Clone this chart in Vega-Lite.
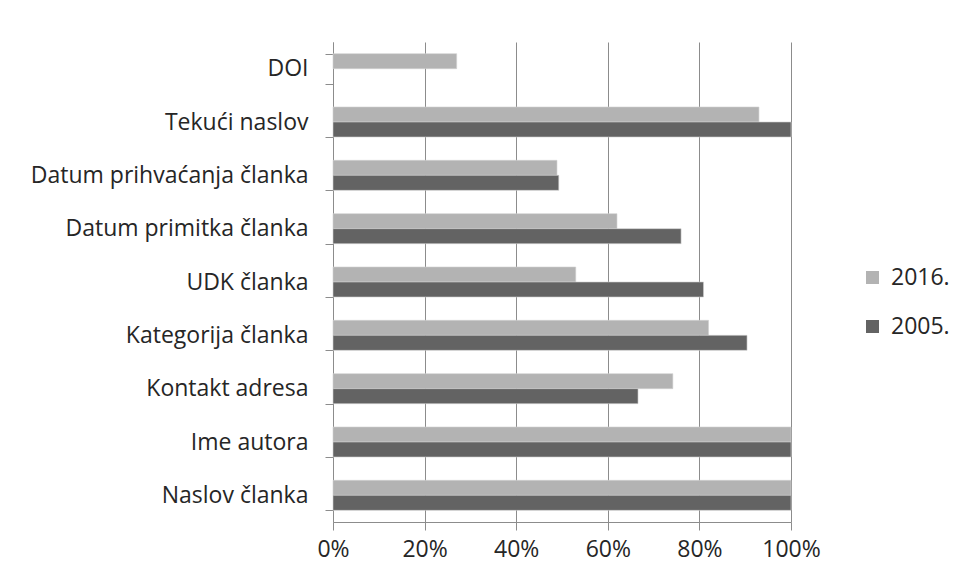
{
  "$schema": "https://vega.github.io/schema/vega-lite/v6.json",
  "width": 458,
  "height": 480,
  "autosize": {"type": "none"},
  "padding": {"left": 333, "top": 42, "right": 169, "bottom": 60},
  "background": "white",
  "data": {
    "values": [
      {"kategorija": "DOI", "godina": "2016.", "udio": 27},
      {"kategorija": "Tekući naslov", "godina": "2016.", "udio": 93},
      {"kategorija": "Tekući naslov", "godina": "2005.", "udio": 100},
      {"kategorija": "Datum prihvaćanja članka", "godina": "2016.", "udio": 48.9},
      {"kategorija": "Datum prihvaćanja članka", "godina": "2005.", "udio": 49.3},
      {"kategorija": "Datum primitka članka", "godina": "2016.", "udio": 62},
      {"kategorija": "Datum primitka članka", "godina": "2005.", "udio": 76},
      {"kategorija": "UDK članka", "godina": "2016.", "udio": 53},
      {"kategorija": "UDK članka", "godina": "2005.", "udio": 80.9},
      {"kategorija": "Kategorija članka", "godina": "2016.", "udio": 82},
      {"kategorija": "Kategorija članka", "godina": "2005.", "udio": 90.4},
      {"kategorija": "Kontakt adresa", "godina": "2016.", "udio": 74.2},
      {"kategorija": "Kontakt adresa", "godina": "2005.", "udio": 66.6},
      {"kategorija": "Ime autora", "godina": "2016.", "udio": 100},
      {"kategorija": "Ime autora", "godina": "2005.", "udio": 100},
      {"kategorija": "Naslov članka", "godina": "2016.", "udio": 100},
      {"kategorija": "Naslov članka", "godina": "2005.", "udio": 100}
    ]
  },
  "mark": {"type": "bar", "stroke": "#d0d0d0", "strokeWidth": 0.6},
  "encoding": {
    "y": {
      "field": "kategorija",
      "type": "nominal",
      "sort": ["DOI", "Tekući naslov", "Datum prihvaćanja članka", "Datum primitka članka", "UDK članka", "Kategorija članka", "Kontakt adresa", "Ime autora", "Naslov članka"],
      "scale": {"paddingInner": 0.4375, "paddingOuter": 0.21875},
      "axis": {
        "title": null,
        "tickBand": "extent",
        "tickSize": 8,
        "labelPadding": 17,
        "labelLimit": 400,
        "domainColor": "#8c8c8c",
        "tickColor": "#8c8c8c",
        "grid": false
      }
    },
    "yOffset": {
      "field": "godina",
      "type": "nominal",
      "sort": ["2016.", "2005."],
      "scale": {"paddingInner": 0, "paddingOuter": 0}
    },
    "x": {
      "field": "udio",
      "type": "quantitative",
      "scale": {"domain": [0, 100], "nice": false},
      "axis": {
        "title": null,
        "values": [0, 20, 40, 60, 80, 100],
        "labelExpr": "datum.value + '%'",
        "grid": true,
        "gridColor": "#8c8c8c",
        "gridWidth": 1,
        "tickSize": 8,
        "labelPadding": 8,
        "domainColor": "#8c8c8c",
        "tickColor": "#8c8c8c",
        "labelFlush": false
      }
    },
    "color": {
      "field": "godina",
      "type": "nominal",
      "sort": ["2016.", "2005."],
      "scale": {"domain": ["2016.", "2005."], "range": ["#b3b3b3", "#636363"]},
      "legend": {
        "title": null,
        "orient": "none",
        "legendX": 528,
        "legendY": 224,
        "symbolType": "square",
        "symbolSize": 169,
        "symbolStrokeWidth": 0,
        "labelOffset": 7,
        "rowPadding": 25,
        "padding": 0
      }
    }
  },
  "config": {
    "view": {"stroke": null},
    "font": "Open Sans",
    "axis": {"labelFont": "Open Sans", "labelFontSize": 23, "labelColor": "#262626"},
    "legend": {"labelFont": "Open Sans", "labelFontSize": 23, "labelColor": "#262626"}
  }
}
